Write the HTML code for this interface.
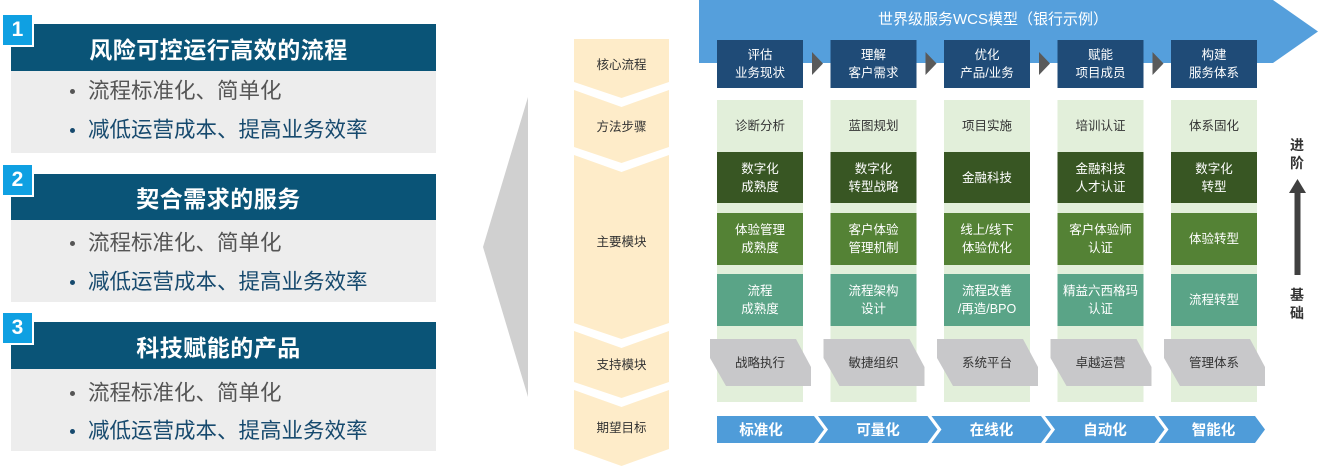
<!DOCTYPE html>
<html>
<head>
<meta charset="utf-8">
<style>
  html,body{margin:0;padding:0;background:#fff;}
  body{width:1319px;height:466px;position:relative;overflow:hidden;
    font-family:"Liberation Sans","Noto Sans CJK SC",sans-serif;}
  .abs{position:absolute;}
  .hdr{position:absolute;left:11px;width:425px;background:#0a5477;color:#fff;
    font-weight:bold;font-size:23px;display:flex;align-items:center;justify-content:center;
    padding-right:10px;box-sizing:border-box;letter-spacing:0.5px;}
  .bdy{position:absolute;left:11px;width:425px;height:82px;background:#ededed;}
  .badge{position:absolute;left:3px;width:29px;height:30px;background:#0fa0e2;color:#fff;
    font-weight:bold;font-size:21px;display:flex;align-items:center;justify-content:center;
    box-shadow:2px 2px 0 #fff;}
  .li{position:absolute;left:88px;font-size:21.5px;line-height:24px;white-space:nowrap;}
  .li1{color:#555;}
  .li2{color:#174a6e;}
  .dot{position:absolute;left:70px;width:5px;height:5px;border-radius:50%;}
  .lbl{position:absolute;left:574px;width:95px;text-align:center;font-size:12.5px;color:#333;line-height:16px;}
  .box{position:absolute;width:86px;display:flex;align-items:center;justify-content:center;
    text-align:center;font-size:12.5px;line-height:18px;color:#fff;}
  .dk{color:#333;}
  .seg{position:absolute;top:416px;height:27px;display:flex;align-items:center;justify-content:center;
    color:#fff;font-weight:bold;font-size:14.5px;}
  .side{position:absolute;left:1288px;width:18px;text-align:center;font-weight:bold;font-size:14px;line-height:18px;color:#333;}
</style>
</head>
<body>

<!-- Left panel -->
<div class="hdr" style="top:24px;height:47px;">风险可控运行高效的流程</div>
<div class="bdy" style="top:71px;"></div>
<div class="badge" style="top:15px;">1</div>
<div class="dot" style="top:89px;background:#555;"></div>
<div class="li li1" style="top:79px;">流程标准化、简单化</div>
<div class="dot" style="top:128px;background:#174a6e;"></div>
<div class="li li2" style="top:118px;">减低运营成本、提高业务效率</div>

<div class="hdr" style="top:174px;height:46px;">契合需求的服务</div>
<div class="bdy" style="top:220px;"></div>
<div class="badge" style="top:165px;">2</div>
<div class="dot" style="top:241px;background:#555;"></div>
<div class="li li1" style="top:231px;">流程标准化、简单化</div>
<div class="dot" style="top:280px;background:#174a6e;"></div>
<div class="li li2" style="top:270px;">减低运营成本、提高业务效率</div>

<div class="hdr" style="top:322px;height:47px;">科技赋能的产品</div>
<div class="bdy" style="top:369px;"></div>
<div class="badge" style="top:313px;">3</div>
<div class="dot" style="top:391px;background:#555;"></div>
<div class="li li1" style="top:381px;">流程标准化、简单化</div>
<div class="dot" style="top:429px;background:#174a6e;"></div>
<div class="li li2" style="top:419px;">减低运营成本、提高业务效率</div>

<!-- Shapes -->
<svg class="abs" style="left:0;top:0;" width="1319" height="466" viewBox="0 0 1319 466">
  <!-- gray triangle -->
  <polygon points="528,97 483,247 528,397" fill="#d0d0d0"/>
  <!-- middle beige column -->
  <g fill="#feecc9">
    <polygon points="574,39 669,39 669,82 621.5,98 574,82"/>
    <polygon points="574,90 621.5,107 669,90 669,147 621.5,163 574,147"/>
    <polygon points="574,155 621.5,172 669,155 669,323 621.5,339 574,323"/>
    <polygon points="574,331 621.5,348 669,331 669,382 621.5,398 574,382"/>
    <polygon points="574,390 621.5,407 669,390 669,449 621.5,466 574,449"/>
  </g>
  <!-- banner -->
  <polygon points="699,0 1273,0 1318,31.5 1273,63 699,63" fill="#559fdc"/>
  <!-- columns -->
  <g>
    <rect x="717" y="100" width="86" height="302" fill="#e2efda"/>
    <rect x="830.5" y="100" width="86" height="302" fill="#e2efda"/>
    <rect x="944" y="100" width="86" height="302" fill="#e2efda"/>
    <rect x="1057.5" y="100" width="86" height="302" fill="#e2efda"/>
    <rect x="1171" y="100" width="86" height="302" fill="#e2efda"/>
  </g>
  <!-- top blue boxes -->
  <g fill="#1f4b77">
    <rect x="717" y="40" width="86" height="48"/>
    <rect x="830.5" y="40" width="86" height="48"/>
    <rect x="944" y="40" width="86" height="48"/>
    <rect x="1057.5" y="40" width="86" height="48"/>
    <rect x="1171" y="40" width="86" height="48"/>
  </g>
  <!-- gray triangles -->
  <g fill="#5a5a5a">
    <polygon points="812,52 823,63.5 812,75"/>
    <polygon points="925.5,52 936.5,63.5 925.5,75"/>
    <polygon points="1039,52 1050,63.5 1039,75"/>
    <polygon points="1152.5,52 1163.5,63.5 1152.5,75"/>
  </g>
  <!-- green rows -->
  <g>
    <rect x="717" y="152" width="86" height="51" fill="#385623"/>
    <rect x="830.5" y="152" width="86" height="51" fill="#385623"/>
    <rect x="944" y="152" width="86" height="51" fill="#385623"/>
    <rect x="1057.5" y="152" width="86" height="51" fill="#385623"/>
    <rect x="1171" y="152" width="86" height="51" fill="#385623"/>
    <rect x="717" y="213" width="86" height="52" fill="#548235"/>
    <rect x="830.5" y="213" width="86" height="52" fill="#548235"/>
    <rect x="944" y="213" width="86" height="52" fill="#548235"/>
    <rect x="1057.5" y="213" width="86" height="52" fill="#548235"/>
    <rect x="1171" y="213" width="86" height="52" fill="#548235"/>
    <rect x="717" y="274" width="86" height="52" fill="#5aa487"/>
    <rect x="830.5" y="274" width="86" height="52" fill="#5aa487"/>
    <rect x="944" y="274" width="86" height="52" fill="#5aa487"/>
    <rect x="1057.5" y="274" width="86" height="52" fill="#5aa487"/>
    <rect x="1171" y="274" width="86" height="52" fill="#5aa487"/>
  </g>
  <!-- gray support shapes -->
  <g fill="#c8c8ca">
    <polygon points="710,339 796,339 811,367 811,386 726,386 710,358"/>
    <polygon points="823.5,339 909.5,339 924.5,367 924.5,386 839.5,386 823.5,358"/>
    <polygon points="937,339 1023,339 1038,367 1038,386 953,386 937,358"/>
    <polygon points="1050.5,339 1136.5,339 1151.5,367 1151.5,386 1066.5,386 1050.5,358"/>
    <polygon points="1164,339 1250,339 1265,367 1265,386 1180,386 1164,358"/>
  </g>
  <!-- bottom strip -->
  <g fill="#4f9cd9">
    <polygon points="717,416 814,416 824,429.5 814,443 717,443"/>
    <polygon points="818,416 927.5,416 937.5,429.5 927.5,443 818,443 828,429.5"/>
    <polygon points="931.5,416 1041,416 1051,429.5 1041,443 931.5,443 941.5,429.5"/>
    <polygon points="1045,416 1154.5,416 1164.5,429.5 1154.5,443 1045,443 1055,429.5"/>
    <polygon points="1158.5,416 1255,416 1265,429.5 1255,443 1158.5,443 1168.5,429.5"/>
  </g>
  <!-- progress arrow -->
  <polygon points="1297.5,179 1306,193 1300.5,193 1300.5,275 1294.5,275 1294.5,193 1289,193" fill="#404040"/>
</svg>

<!-- Middle labels -->
<div class="lbl" style="top:57px;">核心流程</div>
<div class="lbl" style="top:119px;">方法步骤</div>
<div class="lbl" style="top:234px;">主要模块</div>
<div class="lbl" style="top:357px;">支持模块</div>
<div class="lbl" style="top:420px;">期望目标</div>

<!-- Banner title -->
<div class="abs" style="left:699px;width:588px;top:10px;text-align:center;color:#fff;font-size:15px;line-height:20px;">世界级服务WCS模型（银行示例）</div>

<!-- Column 1 -->
<div class="box" style="left:717px;top:40px;height:48px;">评估<br>业务现状</div>
<div class="box dk" style="left:717px;top:100px;height:52px;">诊断分析</div>
<div class="box" style="left:717px;top:152px;height:51px;">数字化<br>成熟度</div>
<div class="box" style="left:717px;top:213px;height:52px;">体验管理<br>成熟度</div>
<div class="box" style="left:717px;top:274px;height:52px;">流程<br>成熟度</div>
<div class="box dk" style="left:717px;top:339px;height:47px;">战略执行</div>

<!-- Column 2 -->
<div class="box" style="left:830.5px;top:40px;height:48px;">理解<br>客户需求</div>
<div class="box dk" style="left:830.5px;top:100px;height:52px;">蓝图规划</div>
<div class="box" style="left:830.5px;top:152px;height:51px;">数字化<br>转型战略</div>
<div class="box" style="left:830.5px;top:213px;height:52px;">客户体验<br>管理机制</div>
<div class="box" style="left:830.5px;top:274px;height:52px;">流程架构<br>设计</div>
<div class="box dk" style="left:830.5px;top:339px;height:47px;">敏捷组织</div>

<!-- Column 3 -->
<div class="box" style="left:944px;top:40px;height:48px;">优化<br>产品/业务</div>
<div class="box dk" style="left:944px;top:100px;height:52px;">项目实施</div>
<div class="box" style="left:944px;top:152px;height:51px;">金融科技</div>
<div class="box" style="left:944px;top:213px;height:52px;">线上/线下<br>体验优化</div>
<div class="box" style="left:944px;top:274px;height:52px;">流程改善<br>/再造/BPO</div>
<div class="box dk" style="left:944px;top:339px;height:47px;">系统平台</div>

<!-- Column 4 -->
<div class="box" style="left:1057.5px;top:40px;height:48px;">赋能<br>项目成员</div>
<div class="box dk" style="left:1057.5px;top:100px;height:52px;">培训认证</div>
<div class="box" style="left:1057.5px;top:152px;height:51px;">金融科技<br>人才认证</div>
<div class="box" style="left:1057.5px;top:213px;height:52px;">客户体验师<br>认证</div>
<div class="box" style="left:1057.5px;top:274px;height:52px;">精益六西格玛<br>认证</div>
<div class="box dk" style="left:1057.5px;top:339px;height:47px;">卓越运营</div>

<!-- Column 5 -->
<div class="box" style="left:1171px;top:40px;height:48px;">构建<br>服务体系</div>
<div class="box dk" style="left:1171px;top:100px;height:52px;">体系固化</div>
<div class="box" style="left:1171px;top:152px;height:51px;">数字化<br>转型</div>
<div class="box" style="left:1171px;top:213px;height:52px;">体验转型</div>
<div class="box" style="left:1171px;top:274px;height:52px;">流程转型</div>
<div class="box dk" style="left:1171px;top:339px;height:47px;">管理体系</div>

<!-- Bottom strip labels -->
<div class="seg" style="left:717px;width:88px;">标准化</div>
<div class="seg" style="left:828px;width:100px;">可量化</div>
<div class="seg" style="left:941.5px;width:100px;">在线化</div>
<div class="seg" style="left:1055px;width:100px;">自动化</div>
<div class="seg" style="left:1168.5px;width:90px;">智能化</div>

<!-- Side labels -->
<div class="side" style="top:136px;">进<br>阶</div>
<div class="side" style="top:286px;">基<br>础</div>

</body>
</html>
